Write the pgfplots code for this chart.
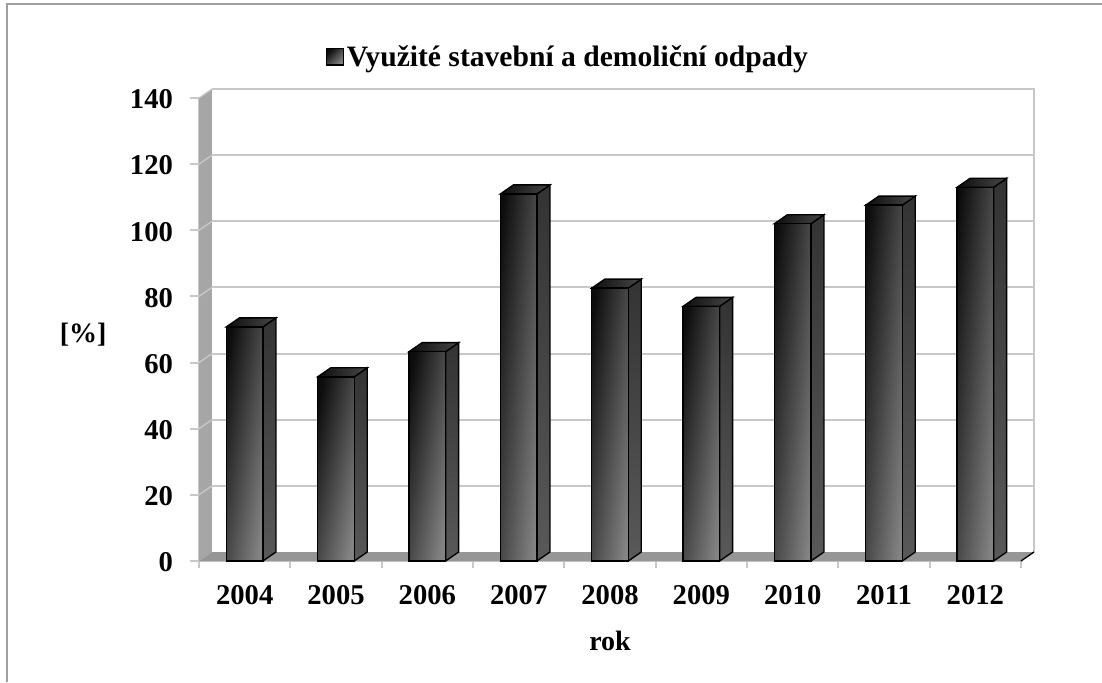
\documentclass[border=0pt]{standalone}
\usepackage{fontspec}
\setmainfont{Liberation Serif}
\usepackage{pgfplots}
\pgfplotsset{compat=1.18}
\definecolor{wall}{HTML}{A6A6A6}
\definecolor{floorc}{HTML}{969696}
\definecolor{gridc}{HTML}{C8C8C8}
\definecolor{frontA}{HTML}{0C0C0C}
\definecolor{frontB}{HTML}{848484}
\tikzset{
  front/.style={draw=black,line width=1.1pt,top color=frontA,bottom color=frontB,shading angle=#1},
  front/.default=45,
  side/.style={draw=black,line width=1pt,top color=black!80,bottom color=black!65},
  topf/.style={draw=black,line width=1pt,left color=black!95,right color=black!72},
  gl/.style={gridc,line width=1.6pt},
}
\begin{document}
\begin{tikzpicture}
\useasboundingbox[fill=white] (0pt,0pt) rectangle (826.5pt,511.5pt);
\draw[gray!75,line width=1.5pt] (5.6pt,0pt) -- (5.6pt,508.5pt) -- (826.5pt,508.5pt);
\begin{axis}[
  at={(149.25pt,90.75pt)},anchor=south west,
  scale only axis,width=616.5pt,height=347.25pt,
  xmin=-0.5,xmax=8.5,ymin=0,ymax=140,
  clip=false,
  axis lines=left,
  axis line style={-,gridc,line width=1.4pt},
  xtick={0,...,8},
  xticklabels={2004,2005,2006,2007,2008,2009,2010,2011,2012},
  minor xtick={-0.5,0.5,...,8.5},
  ytick={0,20,...,140},
  major x tick style={draw=none},
  minor tick style={gridc,line width=1.4pt},
  major y tick style={gridc,line width=1.4pt},
  tick align=outside,
  minor tick length=5.5pt,
  major tick length=6.5pt,
  tick label style={font=\fontsize{21.5}{21.5}\selectfont\bfseries},
  x tick label style={yshift=-8pt},
  y tick label style={xshift=-9.5pt,yshift=-1pt},
  /pgf/number format/assume math mode=true,
  xlabel={rok},
  ylabel={[\%]},
  xlabel style={font=\fontsize{21}{21}\selectfont\bfseries,at={(axis description cs:0.5,-0.1728)},anchor=center},
  ylabel style={font=\fontsize{21}{21}\selectfont\bfseries,rotate=-90,at={(axis description cs:-0.141,0.488)},anchor=center},
  legend style={draw=none,fill=none,at={(axis description cs:0.4495,1.0886)},anchor=center,
    font=\fontsize{22.2}{22.2}\selectfont\bfseries,inner sep=0pt},
  legend image code/.code={\path[front,line width=0.8pt] (0pt,-6pt) rectangle (12.5pt,6.5pt);},
]
% walls and floor
\addplot[forget plot,draw=none,fill=wall] coordinates {(-0.5,0)(-0.3577,2.72)(-0.3577,142.72)(-0.5,140)} --cycle;
\addplot[forget plot,draw=none,fill=floorc] coordinates {(-0.5,0)(8.5,0)(8.6423,2.72)(-0.3577,2.72)} --cycle;
% gridlines on the back wall and the left wall
\addplot[forget plot,gl] coordinates {(-0.3577,22.72)(8.6423,22.72)};
\addplot[forget plot,gl] coordinates {(-0.3577,42.72)(8.6423,42.72)};
\addplot[forget plot,gl] coordinates {(-0.3577,62.72)(8.6423,62.72)};
\addplot[forget plot,gl] coordinates {(-0.3577,82.72)(8.6423,82.72)};
\addplot[forget plot,gl] coordinates {(-0.3577,102.72)(8.6423,102.72)};
\addplot[forget plot,gl] coordinates {(-0.3577,122.72)(8.6423,122.72)};
\addplot[forget plot,gl] coordinates {(-0.3577,142.72)(8.6423,142.72)(8.6423,2.72)};
\addplot[forget plot,gl,line width=1pt] coordinates {(-0.5,20)(-0.3577,22.72)};
\addplot[forget plot,gl,line width=1pt] coordinates {(-0.5,40)(-0.3577,42.72)};
\addplot[forget plot,gl,line width=1pt] coordinates {(-0.5,60)(-0.3577,62.72)};
\addplot[forget plot,gl,line width=1pt] coordinates {(-0.5,80)(-0.3577,82.72)};
\addplot[forget plot,gl,line width=1pt] coordinates {(-0.5,100)(-0.3577,102.72)};
\addplot[forget plot,gl,line width=1pt] coordinates {(-0.5,120)(-0.3577,122.72)};
\addplot[forget plot,gl,line width=1pt] coordinates {(-0.5,140)(-0.3577,142.72)};
\addplot[forget plot,black,line width=1pt] coordinates {(8.5,0)(8.6423,2.72)};
% bar sides
\addplot[forget plot,side] coordinates {(0.2,0)(0.3423,2.72)(0.3423,73.52)(0.2,70.8)} --cycle;
\addplot[forget plot,side] coordinates {(1.2,0)(1.3423,2.72)(1.3423,58.42)(1.2,55.7)} --cycle;
\addplot[forget plot,side] coordinates {(2.2,0)(2.3423,2.72)(2.3423,66.02)(2.2,63.3)} --cycle;
\addplot[forget plot,side] coordinates {(3.2,0)(3.3423,2.72)(3.3423,113.72)(3.2,111)} --cycle;
\addplot[forget plot,side] coordinates {(4.2,0)(4.3423,2.72)(4.3423,85.22)(4.2,82.5)} --cycle;
\addplot[forget plot,side] coordinates {(5.2,0)(5.3423,2.72)(5.3423,79.72)(5.2,77)} --cycle;
\addplot[forget plot,side] coordinates {(6.2,0)(6.3423,2.72)(6.3423,104.72)(6.2,102)} --cycle;
\addplot[forget plot,side] coordinates {(7.2,0)(7.3423,2.72)(7.3423,110.32)(7.2,107.6)} --cycle;
\addplot[forget plot,side] coordinates {(8.2,0)(8.3423,2.72)(8.3423,115.72)(8.2,113)} --cycle;
% bar tops
\addplot[forget plot,topf] coordinates {(-0.2,70.8)(0.2,70.8)(0.3423,73.52)(-0.0577,73.52)} --cycle;
\addplot[forget plot,topf] coordinates {(0.8,55.7)(1.2,55.7)(1.3423,58.42)(0.9423,58.42)} --cycle;
\addplot[forget plot,topf] coordinates {(1.8,63.3)(2.2,63.3)(2.3423,66.02)(1.9423,66.02)} --cycle;
\addplot[forget plot,topf] coordinates {(2.8,111)(3.2,111)(3.3423,113.72)(2.9423,113.72)} --cycle;
\addplot[forget plot,topf] coordinates {(3.8,82.5)(4.2,82.5)(4.3423,85.22)(3.9423,85.22)} --cycle;
\addplot[forget plot,topf] coordinates {(4.8,77)(5.2,77)(5.3423,79.72)(4.9423,79.72)} --cycle;
\addplot[forget plot,topf] coordinates {(5.8,102)(6.2,102)(6.3423,104.72)(5.9423,104.72)} --cycle;
\addplot[forget plot,topf] coordinates {(6.8,107.6)(7.2,107.6)(7.3423,110.32)(6.9423,110.32)} --cycle;
\addplot[forget plot,topf] coordinates {(7.8,113)(8.2,113)(8.3423,115.72)(7.9423,115.72)} --cycle;
% bar fronts
\addplot[ybar,bar width=0.4,bar shift=0pt,front=81] coordinates {(0,70.8)};
\addplot[forget plot,ybar,bar width=0.4,bar shift=0pt,front=78.6] coordinates {(1,55.7)};
\addplot[forget plot,ybar,bar width=0.4,bar shift=0pt,front=80] coordinates {(2,63.3)};
\addplot[forget plot,ybar,bar width=0.4,bar shift=0pt,front=84.2] coordinates {(3,111)};
\addplot[forget plot,ybar,bar width=0.4,bar shift=0pt,front=82.3] coordinates {(4,82.5)};
\addplot[forget plot,ybar,bar width=0.4,bar shift=0pt,front=81.7] coordinates {(5,77)};
\addplot[forget plot,ybar,bar width=0.4,bar shift=0pt,front=83.7] coordinates {(6,102)};
\addplot[forget plot,ybar,bar width=0.4,bar shift=0pt,front=84] coordinates {(7,107.6)};
\addplot[forget plot,ybar,bar width=0.4,bar shift=0pt,front=84.3] coordinates {(8,113)};
\legend{Využité stavební a demoliční odpady}
\end{axis}
\end{tikzpicture}
\end{document}
